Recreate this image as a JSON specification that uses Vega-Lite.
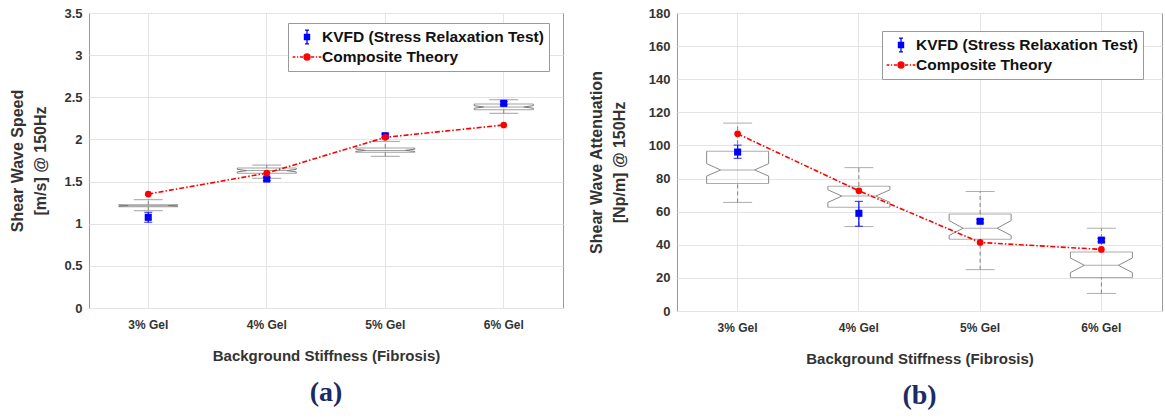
{
  "$schema": "https://vega.github.io/schema/vega-lite/v6.json",
  "background": "white",
  "padding": {"left": 9, "top": 6, "right": 2, "bottom": 0},
  "spacing": 23,
  "config": {
    "font": "Liberation Sans",
    "view": {"stroke": "#9a9a9a", "strokeWidth": 1},
    "axis": {
      "domain": false, "ticks": false, "grid": true, "gridColor": "#e4e4e4", "gridWidth": 1,
      "labelFont": "Liberation Sans", "labelFontWeight": "bold", "labelColor": "#333333",
      "titleFont": "Liberation Sans", "titleFontWeight": "bold", "titleColor": "#333333"
    },
    "axisX": {"labelFontSize": 12, "labelAngle": 0, "labelPadding": 11, "titleFontSize": 15, "titlePadding": 18, "bandPosition": 0.5},
    "axisY": {"labelFontSize": 13, "labelPadding": 7, "titleFontSize": 16, "titleLineHeight": 23, "titlePadding": 15},
    "legend": {
      "orient": "none", "fillColor": "white", "strokeColor": "#9a9a9a", "padding": 5,
      "labelFont": "Liberation Sans", "labelFontWeight": "bold", "labelFontSize": 15.5, "labelColor": "#111111", "labelLimit": 400,
      "symbolSize": 256, "symbolOffset": 5, "labelOffset": 6, "rowPadding": 1, "title": null, "symbolStrokeWidth": 1.3
    },
    "title": {"font": "Liberation Serif", "fontWeight": "bold", "fontSize": 28, "color": "#1b2b66", "orient": "bottom", "offset": 16}
  },
  "datasets": {
    "boxA": [
      {"cat": "3% Gel", "wLo": 1.154, "q1": 1.202, "nLo": 1.207, "med": 1.214, "nHi": 1.221, "q3": 1.226, "wHi": 1.285},
      {"cat": "4% Gel", "wLo": 1.539, "q1": 1.600, "nLo": 1.615, "med": 1.630, "nHi": 1.645, "q3": 1.660, "wHi": 1.696},
      {"cat": "5% Gel", "wLo": 1.800, "q1": 1.847, "nLo": 1.858, "med": 1.870, "nHi": 1.884, "q3": 1.898, "wHi": 1.977},
      {"cat": "6% Gel", "wLo": 2.310, "q1": 2.352, "nLo": 2.370, "med": 2.385, "nHi": 2.400, "q3": 2.420, "wHi": 2.471}
    ],
    "ptsA": [
      {"cat": "3% Gel", "series": "KVFD (Stress Relaxation Test)", "value": 1.076, "lo": 1.017, "hi": 1.135},
      {"cat": "4% Gel", "series": "KVFD (Stress Relaxation Test)", "value": 1.530, "lo": 1.510, "hi": 1.550},
      {"cat": "5% Gel", "series": "KVFD (Stress Relaxation Test)", "value": 2.044, "lo": 2.025, "hi": 2.065},
      {"cat": "6% Gel", "series": "KVFD (Stress Relaxation Test)", "value": 2.428, "lo": 2.410, "hi": 2.450},
      {"cat": "3% Gel", "series": "Composite Theory", "value": 1.352},
      {"cat": "4% Gel", "series": "Composite Theory", "value": 1.600},
      {"cat": "5% Gel", "series": "Composite Theory", "value": 2.025},
      {"cat": "6% Gel", "series": "Composite Theory", "value": 2.171}
    ],
    "boxB": [
      {"cat": "3% Gel", "wLo": 65.6, "q1": 77.0, "nLo": 81.5, "med": 85.2, "nHi": 89.0, "q3": 96.5, "wHi": 113.5},
      {"cat": "4% Gel", "wLo": 51.0, "q1": 62.6, "nLo": 65.6, "med": 69.4, "nHi": 73.2, "q3": 75.4, "wHi": 86.6},
      {"cat": "5% Gel", "wLo": 25.0, "q1": 43.4, "nLo": 45.6, "med": 50.0, "nHi": 54.6, "q3": 58.6, "wHi": 72.2},
      {"cat": "6% Gel", "wLo": 10.6, "q1": 20.2, "nLo": 23.2, "med": 27.6, "nHi": 32.0, "q3": 35.6, "wHi": 50.0}
    ],
    "ptsB": [
      {"cat": "3% Gel", "series": "KVFD (Stress Relaxation Test)", "value": 96.0, "lo": 92.2, "hi": 100.2},
      {"cat": "4% Gel", "series": "KVFD (Stress Relaxation Test)", "value": 59.0, "lo": 51.2, "hi": 66.2},
      {"cat": "5% Gel", "series": "KVFD (Stress Relaxation Test)", "value": 54.2, "lo": 53.2, "hi": 55.2},
      {"cat": "6% Gel", "series": "KVFD (Stress Relaxation Test)", "value": 42.8, "lo": 41.8, "hi": 43.8},
      {"cat": "3% Gel", "series": "Composite Theory", "value": 107.0},
      {"cat": "4% Gel", "series": "Composite Theory", "value": 72.6},
      {"cat": "5% Gel", "series": "Composite Theory", "value": 41.4},
      {"cat": "6% Gel", "series": "Composite Theory", "value": 37.2}
    ]
  },
  "resolve": {"scale": {"fill": "independent", "stroke": "independent", "shape": "independent"}, "legend": {"fill": "independent", "stroke": "independent", "shape": "independent"}},
  "hconcat": [
    {
      "width": 474, "height": 295,
      "title": "(a)",
      "data": {"name": "boxA"},
      "encoding": {
        "x": {"field": "cat", "type": "nominal", "sort": null,
              "scale": {"domain": ["3% Gel", "4% Gel", "5% Gel", "6% Gel"], "paddingInner": 0, "paddingOuter": 0},
              "axis": {"title": "Background Stiffness (Fibrosis)"}}
      },
      "layer": [
        {"mark": {"type": "rule", "color": "#808080", "strokeDash": [4, 3]},
         "encoding": {"y": {"field": "q3", "type": "quantitative", "scale": {"domain": [0, 3.5], "nice": false},
                            "axis": {"title": ["Shear Wave Speed", "[m/s] @ 150Hz"], "values": [0, 0.5, 1, 1.5, 2, 2.5, 3, 3.5], "format": "~g"}},
                      "y2": {"field": "wHi"}}},
        {"mark": {"type": "rule", "color": "#808080", "strokeDash": [4, 3]},
         "encoding": {"y": {"field": "wLo", "type": "quantitative", "axis": {"title": ["Shear Wave Speed", "[m/s] @ 150Hz"], "values": [0, 0.5, 1, 1.5, 2, 2.5, 3, 3.5], "format": "~g"}}, "y2": {"field": "q1"}}},
        {"transform": [{"fold": ["wLo", "wHi"], "as": ["k", "v"]}],
         "mark": {"type": "tick", "color": "#7a7a7a", "size": 29, "thickness": 1},
         "encoding": {"y": {"field": "v", "type": "quantitative", "axis": {"title": ["Shear Wave Speed", "[m/s] @ 150Hz"], "values": [0, 0.5, 1, 1.5, 2, 2.5, 3, 3.5], "format": "~g"}}}},
        {"transform": [{"fold": ["q1", "q3"], "as": ["k", "v"]}],
         "mark": {"type": "tick", "color": "#7a7a7a", "size": 59, "thickness": 1},
         "encoding": {"y": {"field": "v", "type": "quantitative", "axis": {"title": ["Shear Wave Speed", "[m/s] @ 150Hz"], "values": [0, 0.5, 1, 1.5, 2, 2.5, 3, 3.5], "format": "~g"}}}},
        {"mark": {"type": "tick", "color": "#7a7a7a", "size": 40, "thickness": 1},
         "encoding": {"y": {"field": "med", "type": "quantitative", "axis": {"title": ["Shear Wave Speed", "[m/s] @ 150Hz"], "values": [0, 0.5, 1, 1.5, 2, 2.5, 3, 3.5], "format": "~g"}}}},
        {"mark": {"type": "rule", "color": "#7a7a7a", "xOffset": -29.5},
         "encoding": {"y": {"field": "q3", "type": "quantitative", "axis": {"title": ["Shear Wave Speed", "[m/s] @ 150Hz"], "values": [0, 0.5, 1, 1.5, 2, 2.5, 3, 3.5], "format": "~g"}}, "y2": {"field": "nHi"}}},
        {"mark": {"type": "rule", "color": "#7a7a7a", "xOffset": 29.5},
         "encoding": {"y": {"field": "q3", "type": "quantitative", "axis": {"title": ["Shear Wave Speed", "[m/s] @ 150Hz"], "values": [0, 0.5, 1, 1.5, 2, 2.5, 3, 3.5], "format": "~g"}}, "y2": {"field": "nHi"}}},
        {"mark": {"type": "rule", "color": "#7a7a7a", "xOffset": -29.5},
         "encoding": {"y": {"field": "nLo", "type": "quantitative", "axis": {"title": ["Shear Wave Speed", "[m/s] @ 150Hz"], "values": [0, 0.5, 1, 1.5, 2, 2.5, 3, 3.5], "format": "~g"}}, "y2": {"field": "q1"}}},
        {"mark": {"type": "rule", "color": "#7a7a7a", "xOffset": 29.5},
         "encoding": {"y": {"field": "nLo", "type": "quantitative", "axis": {"title": ["Shear Wave Speed", "[m/s] @ 150Hz"], "values": [0, 0.5, 1, 1.5, 2, 2.5, 3, 3.5], "format": "~g"}}, "y2": {"field": "q1"}}},
        {"mark": {"type": "rule", "color": "#7a7a7a", "xOffset": -29.5, "x2Offset": -20},
         "encoding": {"x2": {"field": "cat"}, "y": {"field": "nHi", "type": "quantitative", "axis": {"title": ["Shear Wave Speed", "[m/s] @ 150Hz"], "values": [0, 0.5, 1, 1.5, 2, 2.5, 3, 3.5], "format": "~g"}}, "y2": {"field": "med"}}},
        {"mark": {"type": "rule", "color": "#7a7a7a", "xOffset": -29.5, "x2Offset": -20},
         "encoding": {"x2": {"field": "cat"}, "y": {"field": "nLo", "type": "quantitative", "axis": {"title": ["Shear Wave Speed", "[m/s] @ 150Hz"], "values": [0, 0.5, 1, 1.5, 2, 2.5, 3, 3.5], "format": "~g"}}, "y2": {"field": "med"}}},
        {"mark": {"type": "rule", "color": "#7a7a7a", "xOffset": 29.5, "x2Offset": 20},
         "encoding": {"x2": {"field": "cat"}, "y": {"field": "nHi", "type": "quantitative", "axis": {"title": ["Shear Wave Speed", "[m/s] @ 150Hz"], "values": [0, 0.5, 1, 1.5, 2, 2.5, 3, 3.5], "format": "~g"}}, "y2": {"field": "med"}}},
        {"mark": {"type": "rule", "color": "#7a7a7a", "xOffset": 29.5, "x2Offset": 20},
         "encoding": {"x2": {"field": "cat"}, "y": {"field": "nLo", "type": "quantitative", "axis": {"title": ["Shear Wave Speed", "[m/s] @ 150Hz"], "values": [0, 0.5, 1, 1.5, 2, 2.5, 3, 3.5], "format": "~g"}}, "y2": {"field": "med"}}},
        {"data": {"name": "ptsA"},
         "transform": [{"filter": "datum.series === 'KVFD (Stress Relaxation Test)'"}],
         "mark": {"type": "rule", "color": "#0000ff", "strokeWidth": 1.2},
         "encoding": {"y": {"field": "lo", "type": "quantitative", "axis": {"title": ["Shear Wave Speed", "[m/s] @ 150Hz"], "values": [0, 0.5, 1, 1.5, 2, 2.5, 3, 3.5], "format": "~g"}}, "y2": {"field": "hi"}}},
        {"data": {"name": "ptsA"},
         "transform": [{"filter": "datum.series === 'KVFD (Stress Relaxation Test)'"}, {"fold": ["lo", "hi"], "as": ["k", "v"]}],
         "mark": {"type": "tick", "color": "#0000ff", "size": 8, "thickness": 1.2},
         "encoding": {"y": {"field": "v", "type": "quantitative", "axis": {"title": ["Shear Wave Speed", "[m/s] @ 150Hz"], "values": [0, 0.5, 1, 1.5, 2, 2.5, 3, 3.5], "format": "~g"}}}},
        {"data": {"name": "ptsA"},
         "transform": [{"filter": "datum.series === 'KVFD (Stress Relaxation Test)'"}],
         "mark": {"type": "point", "shape": "square", "filled": true, "opacity": 1, "size": 50, "color": "#0000ff"},
         "encoding": {"y": {"field": "value", "type": "quantitative", "axis": {"title": ["Shear Wave Speed", "[m/s] @ 150Hz"], "values": [0, 0.5, 1, 1.5, 2, 2.5, 3, 3.5], "format": "~g"}}}},
        {"data": {"name": "ptsA"},
         "transform": [{"filter": "datum.series === 'Composite Theory'"}],
         "mark": {"type": "line", "color": "#ff0000", "strokeWidth": 1.6, "strokeDash": [5, 2, 1.5, 2]},
         "encoding": {"y": {"field": "value", "type": "quantitative", "axis": {"title": ["Shear Wave Speed", "[m/s] @ 150Hz"], "values": [0, 0.5, 1, 1.5, 2, 2.5, 3, 3.5], "format": "~g"}}}},
        {"data": {"name": "ptsA"},
         "transform": [{"filter": "datum.series === 'Composite Theory'"}],
         "mark": {"type": "point", "shape": "circle", "filled": true, "opacity": 1, "size": 45, "color": "#ff0000"},
         "encoding": {"y": {"field": "value", "type": "quantitative", "axis": {"title": ["Shear Wave Speed", "[m/s] @ 150Hz"], "values": [0, 0.5, 1, 1.5, 2, 2.5, 3, 3.5], "format": "~g"}}}},
        {"data": {"name": "ptsA"},
         "transform": [{"filter": "false"}],
         "mark": {"type": "point", "filled": true, "strokeWidth": 1.3, "opacity": 1},
         "encoding": {
           "y": {"field": "value", "type": "quantitative", "axis": {"title": ["Shear Wave Speed", "[m/s] @ 150Hz"], "values": [0, 0.5, 1, 1.5, 2, 2.5, 3, 3.5], "format": "~g"}},
           "fill": {"field": "series", "type": "nominal", "scale": {"domain": ["KVFD (Stress Relaxation Test)", "Composite Theory"], "range": ["#0000ff", "#ff0000"]}, "legend": {"legendX": 199, "legendY": 10}},
           "stroke": {"field": "series", "type": "nominal", "scale": {"domain": ["KVFD (Stress Relaxation Test)", "Composite Theory"], "range": ["#0000ff", "#ff0000"]}, "legend": {"legendX": 199, "legendY": 10}},
           "shape": {"field": "series", "type": "nominal", "legend": {"legendX": 199, "legendY": 10}, "scale": {"domain": ["KVFD (Stress Relaxation Test)", "Composite Theory"],
             "range": ["M0,-0.85V0.85M-0.25,-0.85H0.25M-0.25,0.85H0.25M-0.32,-0.32H0.32V0.32H-0.32Z",
                       "M-1.8,0H-1.45M-1.25,0H-1.1M-0.9,0H-0.5M0.38,0A0.38,0.38 0 1,1 -0.38,0A0.38,0.38 0 1,1 0.38,0ZM0.5,0H0.9M1.1,0H1.25M1.45,0H1.8"]}}
         }}
      ]
    },
    {
      "width": 485, "height": 298,
      "title": "(b)",
      "data": {"name": "boxB"},
      "encoding": {
        "x": {"field": "cat", "type": "nominal", "sort": null,
              "scale": {"domain": ["3% Gel", "4% Gel", "5% Gel", "6% Gel"], "paddingInner": 0, "paddingOuter": 0},
              "axis": {"title": "Background Stiffness (Fibrosis)"}}
      },
      "layer": [
        {"mark": {"type": "rule", "color": "#808080", "strokeDash": [4, 3]},
         "encoding": {"y": {"field": "q3", "type": "quantitative", "scale": {"domain": [0, 180], "nice": false},
                            "axis": {"title": ["Shear Wave Attenuation", "[Np/m] @ 150Hz"], "titlePadding": 21, "values": [0, 20, 40, 60, 80, 100, 120, 140, 160, 180]}},
                      "y2": {"field": "wHi"}}},
        {"mark": {"type": "rule", "color": "#808080", "strokeDash": [4, 3]},
         "encoding": {"y": {"field": "wLo", "type": "quantitative", "axis": {"title": ["Shear Wave Attenuation", "[Np/m] @ 150Hz"], "titlePadding": 21, "values": [0, 20, 40, 60, 80, 100, 120, 140, 160, 180]}}, "y2": {"field": "q1"}}},
        {"transform": [{"fold": ["wLo", "wHi"], "as": ["k", "v"]}],
         "mark": {"type": "tick", "color": "#8a8a8a", "size": 29, "thickness": 1},
         "encoding": {"y": {"field": "v", "type": "quantitative", "axis": {"title": ["Shear Wave Attenuation", "[Np/m] @ 150Hz"], "titlePadding": 21, "values": [0, 20, 40, 60, 80, 100, 120, 140, 160, 180]}}}},
        {"transform": [{"fold": ["q1", "q3"], "as": ["k", "v"]}],
         "mark": {"type": "tick", "color": "#8a8a8a", "size": 62, "thickness": 1},
         "encoding": {"y": {"field": "v", "type": "quantitative", "axis": {"title": ["Shear Wave Attenuation", "[Np/m] @ 150Hz"], "titlePadding": 21, "values": [0, 20, 40, 60, 80, 100, 120, 140, 160, 180]}}}},
        {"mark": {"type": "tick", "color": "#8a8a8a", "size": 34, "thickness": 1},
         "encoding": {"y": {"field": "med", "type": "quantitative", "axis": {"title": ["Shear Wave Attenuation", "[Np/m] @ 150Hz"], "titlePadding": 21, "values": [0, 20, 40, 60, 80, 100, 120, 140, 160, 180]}}}},
        {"mark": {"type": "rule", "color": "#8a8a8a", "xOffset": -31},
         "encoding": {"y": {"field": "q3", "type": "quantitative", "axis": {"title": ["Shear Wave Attenuation", "[Np/m] @ 150Hz"], "titlePadding": 21, "values": [0, 20, 40, 60, 80, 100, 120, 140, 160, 180]}}, "y2": {"field": "nHi"}}},
        {"mark": {"type": "rule", "color": "#8a8a8a", "xOffset": 31},
         "encoding": {"y": {"field": "q3", "type": "quantitative", "axis": {"title": ["Shear Wave Attenuation", "[Np/m] @ 150Hz"], "titlePadding": 21, "values": [0, 20, 40, 60, 80, 100, 120, 140, 160, 180]}}, "y2": {"field": "nHi"}}},
        {"mark": {"type": "rule", "color": "#8a8a8a", "xOffset": -31},
         "encoding": {"y": {"field": "nLo", "type": "quantitative", "axis": {"title": ["Shear Wave Attenuation", "[Np/m] @ 150Hz"], "titlePadding": 21, "values": [0, 20, 40, 60, 80, 100, 120, 140, 160, 180]}}, "y2": {"field": "q1"}}},
        {"mark": {"type": "rule", "color": "#8a8a8a", "xOffset": 31},
         "encoding": {"y": {"field": "nLo", "type": "quantitative", "axis": {"title": ["Shear Wave Attenuation", "[Np/m] @ 150Hz"], "titlePadding": 21, "values": [0, 20, 40, 60, 80, 100, 120, 140, 160, 180]}}, "y2": {"field": "q1"}}},
        {"mark": {"type": "rule", "color": "#8a8a8a", "xOffset": -31, "x2Offset": -17},
         "encoding": {"x2": {"field": "cat"}, "y": {"field": "nHi", "type": "quantitative", "axis": {"title": ["Shear Wave Attenuation", "[Np/m] @ 150Hz"], "titlePadding": 21, "values": [0, 20, 40, 60, 80, 100, 120, 140, 160, 180]}}, "y2": {"field": "med"}}},
        {"mark": {"type": "rule", "color": "#8a8a8a", "xOffset": -31, "x2Offset": -17},
         "encoding": {"x2": {"field": "cat"}, "y": {"field": "nLo", "type": "quantitative", "axis": {"title": ["Shear Wave Attenuation", "[Np/m] @ 150Hz"], "titlePadding": 21, "values": [0, 20, 40, 60, 80, 100, 120, 140, 160, 180]}}, "y2": {"field": "med"}}},
        {"mark": {"type": "rule", "color": "#8a8a8a", "xOffset": 31, "x2Offset": 17},
         "encoding": {"x2": {"field": "cat"}, "y": {"field": "nHi", "type": "quantitative", "axis": {"title": ["Shear Wave Attenuation", "[Np/m] @ 150Hz"], "titlePadding": 21, "values": [0, 20, 40, 60, 80, 100, 120, 140, 160, 180]}}, "y2": {"field": "med"}}},
        {"mark": {"type": "rule", "color": "#8a8a8a", "xOffset": 31, "x2Offset": 17},
         "encoding": {"x2": {"field": "cat"}, "y": {"field": "nLo", "type": "quantitative", "axis": {"title": ["Shear Wave Attenuation", "[Np/m] @ 150Hz"], "titlePadding": 21, "values": [0, 20, 40, 60, 80, 100, 120, 140, 160, 180]}}, "y2": {"field": "med"}}},
        {"data": {"name": "ptsB"},
         "transform": [{"filter": "datum.series === 'KVFD (Stress Relaxation Test)'"}],
         "mark": {"type": "rule", "color": "#0000ff", "strokeWidth": 1.2},
         "encoding": {"y": {"field": "lo", "type": "quantitative", "axis": {"title": ["Shear Wave Attenuation", "[Np/m] @ 150Hz"], "titlePadding": 21, "values": [0, 20, 40, 60, 80, 100, 120, 140, 160, 180]}}, "y2": {"field": "hi"}}},
        {"data": {"name": "ptsB"},
         "transform": [{"filter": "datum.series === 'KVFD (Stress Relaxation Test)'"}, {"fold": ["lo", "hi"], "as": ["k", "v"]}],
         "mark": {"type": "tick", "color": "#0000ff", "size": 8, "thickness": 1.2},
         "encoding": {"y": {"field": "v", "type": "quantitative", "axis": {"title": ["Shear Wave Attenuation", "[Np/m] @ 150Hz"], "titlePadding": 21, "values": [0, 20, 40, 60, 80, 100, 120, 140, 160, 180]}}}},
        {"data": {"name": "ptsB"},
         "transform": [{"filter": "datum.series === 'KVFD (Stress Relaxation Test)'"}],
         "mark": {"type": "point", "shape": "square", "filled": true, "opacity": 1, "size": 50, "color": "#0000ff"},
         "encoding": {"y": {"field": "value", "type": "quantitative", "axis": {"title": ["Shear Wave Attenuation", "[Np/m] @ 150Hz"], "titlePadding": 21, "values": [0, 20, 40, 60, 80, 100, 120, 140, 160, 180]}}}},
        {"data": {"name": "ptsB"},
         "transform": [{"filter": "datum.series === 'Composite Theory'"}],
         "mark": {"type": "line", "color": "#ff0000", "strokeWidth": 1.6, "strokeDash": [5, 2, 1.5, 2]},
         "encoding": {"y": {"field": "value", "type": "quantitative", "axis": {"title": ["Shear Wave Attenuation", "[Np/m] @ 150Hz"], "titlePadding": 21, "values": [0, 20, 40, 60, 80, 100, 120, 140, 160, 180]}}}},
        {"data": {"name": "ptsB"},
         "transform": [{"filter": "datum.series === 'Composite Theory'"}],
         "mark": {"type": "point", "shape": "circle", "filled": true, "opacity": 1, "size": 45, "color": "#ff0000"},
         "encoding": {"y": {"field": "value", "type": "quantitative", "axis": {"title": ["Shear Wave Attenuation", "[Np/m] @ 150Hz"], "titlePadding": 21, "values": [0, 20, 40, 60, 80, 100, 120, 140, 160, 180]}}}},
        {"data": {"name": "ptsB"},
         "transform": [{"filter": "false"}],
         "mark": {"type": "point", "filled": true, "strokeWidth": 1.3, "opacity": 1},
         "encoding": {
           "y": {"field": "value", "type": "quantitative", "axis": {"title": ["Shear Wave Attenuation", "[Np/m] @ 150Hz"], "titlePadding": 21, "values": [0, 20, 40, 60, 80, 100, 120, 140, 160, 180]}},
           "fill": {"field": "series", "type": "nominal", "scale": {"domain": ["KVFD (Stress Relaxation Test)", "Composite Theory"], "range": ["#0000ff", "#ff0000"]}, "legend": {"legendX": 205, "legendY": 18}},
           "stroke": {"field": "series", "type": "nominal", "scale": {"domain": ["KVFD (Stress Relaxation Test)", "Composite Theory"], "range": ["#0000ff", "#ff0000"]}, "legend": {"legendX": 205, "legendY": 18}},
           "shape": {"field": "series", "type": "nominal", "legend": {"legendX": 205, "legendY": 18}, "scale": {"domain": ["KVFD (Stress Relaxation Test)", "Composite Theory"],
             "range": ["M0,-0.85V0.85M-0.25,-0.85H0.25M-0.25,0.85H0.25M-0.32,-0.32H0.32V0.32H-0.32Z",
                       "M-1.8,0H-1.45M-1.25,0H-1.1M-0.9,0H-0.5M0.38,0A0.38,0.38 0 1,1 -0.38,0A0.38,0.38 0 1,1 0.38,0ZM0.5,0H0.9M1.1,0H1.25M1.45,0H1.8"]}}
         }}
      ]
    }
  ]
}
